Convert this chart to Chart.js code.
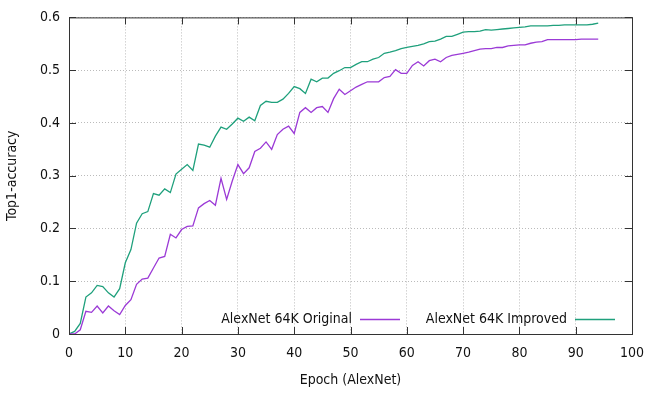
<!DOCTYPE html>
<html>
<head>
<meta charset="utf-8">
<script src="https://cdn.jsdelivr.net/npm/chart.js@4"></script>
<style>
  html, body { margin: 0; padding: 0; background: #fff; }
  #wrap { width: 656px; height: 393px; }
</style>
</head>
<body>
<div id="wrap"><canvas id="chart" width="656" height="393"></canvas></div>
<script>
const epochs = [0, 1, 2, 3, 4, 5, 6, 7, 8, 9, 10, 11, 12, 13, 14, 15, 16, 17, 18, 19,
  20, 21, 22, 23, 24, 25, 26, 27, 28, 29, 30, 31, 32, 33, 34, 35, 36, 37, 38, 39,
  40, 41, 42, 43, 44, 45, 46, 47, 48, 49, 50, 51, 52, 53, 54, 55, 56, 57, 58, 59,
  60, 61, 62, 63, 64, 65, 66, 67, 68, 69, 70, 71, 72, 73, 74, 75, 76, 77, 78, 79,
  80, 81, 82, 83, 84, 85, 86, 87, 88, 89, 90, 91, 92, 93, 94];

const original = [0, 0, 0.008, 0.043, 0.041, 0.053, 0.04, 0.053, 0.044, 0.037,
  0.054, 0.065, 0.094, 0.104, 0.106, 0.125, 0.144, 0.147, 0.189, 0.182,
  0.198, 0.204, 0.205, 0.239, 0.247, 0.253, 0.244, 0.295, 0.255, 0.29,
  0.321, 0.304, 0.315, 0.346, 0.352, 0.364, 0.35, 0.378, 0.388, 0.394,
  0.38, 0.42, 0.429, 0.42, 0.429, 0.431, 0.42, 0.446, 0.464, 0.454,
  0.461, 0.468, 0.473, 0.478, 0.478, 0.478, 0.486, 0.488, 0.501, 0.494,
  0.494, 0.509, 0.516, 0.508, 0.518, 0.521, 0.516, 0.524, 0.528, 0.53,
  0.532, 0.534, 0.537, 0.54, 0.541, 0.541, 0.543, 0.543, 0.546, 0.547,
  0.548, 0.548, 0.551, 0.553, 0.554, 0.558, 0.558, 0.558, 0.558, 0.558,
  0.558, 0.559, 0.559, 0.559, 0.559];

const improved = [0, 0.005, 0.02, 0.07, 0.078, 0.092, 0.09, 0.078, 0.07, 0.086,
  0.135, 0.16, 0.21, 0.228, 0.232, 0.266, 0.263, 0.275, 0.268, 0.303,
  0.312, 0.321, 0.31, 0.36, 0.358, 0.354, 0.375, 0.392, 0.388, 0.398,
  0.409, 0.403, 0.411, 0.404, 0.433, 0.441, 0.439, 0.439, 0.445, 0.456,
  0.469, 0.465, 0.456, 0.483, 0.478, 0.485, 0.485, 0.494, 0.499, 0.505,
  0.505, 0.511, 0.516, 0.516, 0.521, 0.524, 0.532, 0.534, 0.537, 0.541,
  0.543, 0.545, 0.547, 0.55, 0.554, 0.555, 0.559, 0.564, 0.564, 0.568,
  0.572, 0.573, 0.573, 0.574, 0.577, 0.576, 0.577, 0.578, 0.579, 0.58,
  0.581, 0.582, 0.584, 0.584, 0.584, 0.584, 0.585, 0.585, 0.586, 0.586,
  0.586, 0.586, 0.586, 0.587, 0.589];

const seriesNames = ['AlexNet 64K Original', 'AlexNet 64K Improved'];
const seriesColors = ['#9b3ad6', '#1fa07c'];

const FONT = '"DejaVu Sans Condensed", "DejaVu Sans", sans-serif';
const FSIZE = 14;

// gnuplot style: frame, inward ticks on all four sides, legend text before sample
const framePlugin = {
  id: 'frame',
  afterDraw(chart) {
    const { ctx, chartArea: a, scales } = chart;
    ctx.save();
    ctx.strokeStyle = '#333';
    ctx.lineWidth = 1;
    ctx.strokeRect(a.left + 0.5, a.top + 0.5, a.right - a.left, a.bottom - a.top);
    ctx.beginPath();
    scales.x.ticks.forEach(t => {
      const px = Math.round(scales.x.getPixelForValue(t.value)) + 0.5;
      ctx.moveTo(px, a.bottom); ctx.lineTo(px, a.bottom - 7);
      ctx.moveTo(px, a.top); ctx.lineTo(px, a.top + 7);
    });
    scales.y.ticks.forEach(t => {
      const py = Math.round(scales.y.getPixelForValue(t.value)) + 0.5;
      ctx.moveTo(a.left, py); ctx.lineTo(a.left + 7, py);
      ctx.moveTo(a.right, py); ctx.lineTo(a.right - 7, py);
    });
    ctx.stroke();

    // legend
    ctx.font = FSIZE + 'px ' + FONT;
    ctx.fillStyle = '#111';
    ctx.textAlign = 'right';
    ctx.textBaseline = 'middle';
    const ly = a.bottom - 15;
    chart.data.datasets.forEach((ds, i) => {
      const end = a.right - 17 - (1 - i) * 215;
      ctx.fillText(ds.label, end - 48, ly);
      ctx.strokeStyle = ds.borderColor;
      ctx.lineWidth = 1.3;
      ctx.beginPath();
      ctx.moveTo(end - 40, ly + 0.5);
      ctx.lineTo(end, ly + 0.5);
      ctx.stroke();
    });
    ctx.restore();
  }
};

new Chart(document.getElementById('chart'), {
  type: 'line',
  data: {
    datasets: [
      {
        label: seriesNames[0],
        data: epochs.map((e, i) => ({ x: e, y: original[i] })),
        borderColor: seriesColors[0],
        borderWidth: 1.3,
        pointRadius: 0,
        tension: 0,
        fill: false
      },
      {
        label: seriesNames[1],
        data: epochs.map((e, i) => ({ x: e, y: improved[i] })),
        borderColor: seriesColors[1],
        borderWidth: 1.3,
        pointRadius: 0,
        tension: 0,
        fill: false
      }
    ]
  },
  options: {
    responsive: false,
    animation: false,
    layout: { padding: { top: 17, right: 24, left: 0, bottom: 0 } },
    plugins: {
      legend: { display: false },
      tooltip: { enabled: false }
    },
    scales: {
      x: {
        type: 'linear',
        min: 0,
        max: 100,
        ticks: { stepSize: 10, color: '#111', font: { family: FONT, size: FSIZE }, padding: 11 },
        grid: { color: '#bbb', lineWidth: 1, drawTicks: false },
        border: { display: false, dash: [1, 2] },
        title: { display: true, text: 'Epoch (AlexNet)', color: '#111', font: { family: FONT, size: FSIZE }, padding: { top: 8 } },
        afterFit(scale) { scale.height = 59; }
      },
      y: {
        min: 0,
        max: 0.6,
        ticks: {
          stepSize: 0.1,
          color: '#111',
          font: { family: FONT, size: FSIZE },
          padding: 9,
          callback: v => String(+v.toFixed(1))
        },
        grid: { color: '#bbb', lineWidth: 1, drawTicks: false },
        border: { display: false, dash: [1, 2] },
        title: { display: true, text: 'Top1-accuracy', color: '#111', font: { family: FONT, size: FSIZE }, padding: { bottom: 6 } },
        afterFit(scale) { scale.width = 69; }
      }
    }
  },
  plugins: [framePlugin]
});
</script>
</body>
</html>
